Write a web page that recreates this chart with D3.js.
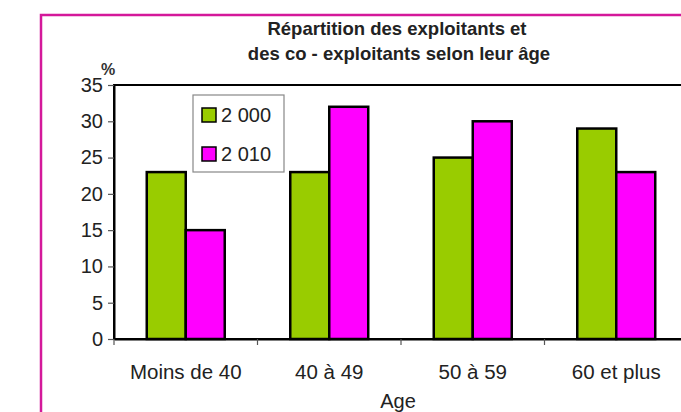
<!DOCTYPE html>
<html>
<head>
<meta charset="utf-8">
<script src="https://cdn.jsdelivr.net/npm/d3@7"></script>
<style>
  body { margin: 0; background: #fff; }
  svg { display: block; font-family: "Liberation Sans", Arial, sans-serif; }
</style>
</head>
<body>
<div id="chart"></div>
<script>
const categories = ["Moins de 40", "40 à 49", "50 à 59", "60 et plus"];
const series = ["2 000", "2 010"];
const values2000 = [23, 23, 25, 29];
const values2010 = [15, 32, 30, 23];
const yTicks = [0, 5, 10, 15, 20, 25, 30, 35];
const colors = ["#99cc00", "#ff00ff"];

const width = 681, height = 412;
const svg = d3.select("#chart").append("svg")
    .attr("width", width)
    .attr("height", height);

// magenta frame (runs off right/bottom)
svg.append("rect")
    .attr("x", 41).attr("y", 15)
    .attr("width", 700).attr("height", 420)
    .attr("fill", "none")
    .attr("stroke", "#d4189a")
    .attr("stroke-width", 2.5);

const plot = { left: 114, top: 85, right: 688, bottom: 339 };

const x = d3.scaleBand().domain(categories).range([plot.left, plot.right]).padding(0);
const x1 = d3.scaleBand().domain(series).range([0, x.bandwidth()]).paddingInner(0).paddingOuter(0.84);
const y = d3.scaleLinear().domain([0, 35]).range([plot.bottom, plot.top]);

// plot area outline
svg.append("rect")
    .attr("x", plot.left).attr("y", plot.top)
    .attr("width", plot.right - plot.left).attr("height", plot.bottom - plot.top)
    .attr("fill", "none").attr("stroke", "#000").attr("stroke-width", 2);

const data = categories.map((c, i) => ({ cat: c, vals: [values2000[i], values2010[i]] }));

const groups = svg.append("g").selectAll("g")
    .data(data).enter().append("g")
    .attr("transform", d => `translate(${x(d.cat)},0)`);

groups.selectAll("rect")
    .data(d => d.vals.map((v, j) => ({ s: series[j], v: v, j: j })))
    .enter().append("rect")
    .attr("x", d => x1(d.s))
    .attr("y", d => y(d.v))
    .attr("width", x1.bandwidth())
    .attr("height", d => y(0) - y(d.v))
    .attr("fill", d => colors[d.j])
    .attr("stroke", "#000")
    .attr("stroke-width", 2.5);

// y axis
const yAxis = svg.append("g")
    .attr("transform", `translate(${plot.left},0)`)
    .call(d3.axisLeft(y).tickValues(yTicks).tickSize(6).tickPadding(5).tickSizeOuter(0));
yAxis.select(".domain").attr("stroke", "#000").attr("stroke-width", 2);
yAxis.selectAll(".tick line").attr("stroke", "#555").attr("stroke-width", 1.2);
yAxis.selectAll("text").attr("font-size", "20px").attr("fill", "#222");

// x axis
const xAxis = svg.append("g")
    .attr("transform", `translate(0,${plot.bottom})`)
    .call(d3.axisBottom(x).tickSize(0).tickPadding(25).tickSizeOuter(0));
xAxis.select(".domain").attr("stroke", "#000").attr("stroke-width", 2);
xAxis.selectAll("text").attr("font-size", "20.5px").attr("fill", "#222");

// boundary ticks between categories
const bounds = categories.map(c => x(c)).concat([x.range()[1]]);
svg.append("g").selectAll("line")
    .data(bounds).enter().append("line")
    .attr("x1", d => d).attr("x2", d => d)
    .attr("y1", plot.bottom).attr("y2", plot.bottom + 6)
    .attr("stroke", "#555").attr("stroke-width", 1.2);

// title
const title = svg.append("text")
    .attr("text-anchor", "middle")
    .attr("font-size", "18.5px")
    .attr("font-weight", "bold")
    .attr("fill", "#222");
title.append("tspan").attr("x", 397).attr("y", 35).text("Répartition des exploitants et");
title.append("tspan").attr("x", 399).attr("y", 60).text("des co - exploitants selon leur âge");

// y unit
svg.append("text")
    .attr("x", 108).attr("y", 75)
    .attr("text-anchor", "middle")
    .attr("font-size", "16px")
    .attr("font-weight", "bold")
    .attr("fill", "#333")
    .text("%");

// x axis title
svg.append("text")
    .attr("x", 398).attr("y", 408)
    .attr("text-anchor", "middle")
    .attr("font-size", "20px")
    .attr("fill", "#222")
    .text("Age");

// legend
const legend = svg.append("g");
legend.append("rect")
    .attr("x", 193).attr("y", 95)
    .attr("width", 91).attr("height", 77)
    .attr("fill", "#fff")
    .attr("stroke", "#888").attr("stroke-width", 1.2);

const items = legend.selectAll("g.item")
    .data(series).enter().append("g")
    .attr("class", "item")
    .attr("transform", (d, i) => `translate(202,${108 + i * 39})`);
items.append("rect")
    .attr("width", 14).attr("height", 14)
    .attr("fill", (d, i) => colors[i])
    .attr("stroke", "#000").attr("stroke-width", 1.5);
items.append("text")
    .attr("x", 19).attr("y", 14)
    .attr("font-size", "20px")
    .attr("fill", "#222")
    .text(d => d);
</script>
</body>
</html>
